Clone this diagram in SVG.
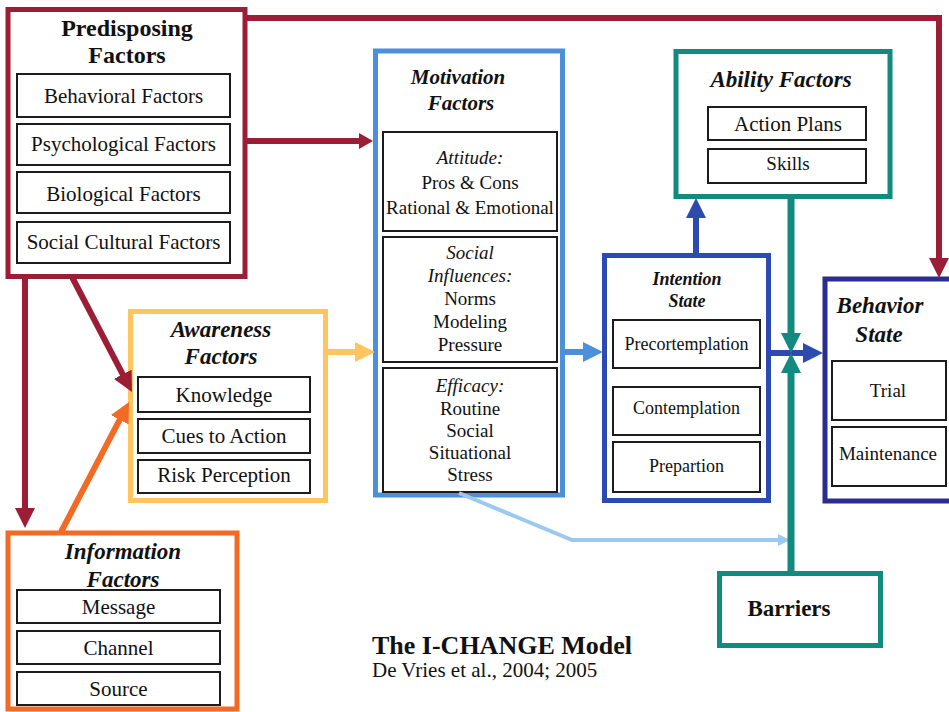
<svg xmlns="http://www.w3.org/2000/svg" width="949" height="712" viewBox="0 0 949 712">
<style>
text{font-family:"Liberation Serif","Times New Roman",serif;fill:#111;text-anchor:middle}
.b{font-weight:bold}
.bi{font-weight:bold;font-style:italic}
.i{font-style:italic}
.outer{fill:#fff;stroke-width:5}
.inner{fill:#fff;stroke:#1c1c1c;stroke-width:2}
.red{stroke:#9B1D36}
.yel{stroke:#FFC660}
.org{stroke:#F26A24}
.mot{stroke:#4B90D8}
.int{stroke:#2D4AAE}
.beh{stroke:#2A2D8E}
.teal{stroke:#138A80}
.conn path{fill:none}
</style>
<defs>
<marker id="aRed" markerUnits="userSpaceOnUse" viewBox="0 0 20 20" refX="6" refY="10" markerWidth="20" markerHeight="20" orient="auto"><path d="M0,0 L20,10 L0,20 z" fill="#9B1D36"/></marker>
<marker id="aRedS" markerUnits="userSpaceOnUse" viewBox="0 0 14 16" refX="4" refY="8" markerWidth="14" markerHeight="16" orient="auto"><path d="M0,0 L14,8 L0,16 z" fill="#9B1D36"/></marker>
<marker id="aOrg" markerUnits="userSpaceOnUse" viewBox="0 0 20 20" refX="6" refY="10" markerWidth="20" markerHeight="20" orient="auto"><path d="M0,0 L20,10 L0,20 z" fill="#F26A24"/></marker>
<marker id="aYel" markerUnits="userSpaceOnUse" viewBox="0 0 20 20" refX="6" refY="10" markerWidth="20" markerHeight="20" orient="auto"><path d="M0,0 L20,10 L0,20 z" fill="#FFC660"/></marker>
<marker id="aMot" markerUnits="userSpaceOnUse" viewBox="0 0 20 20" refX="6" refY="10" markerWidth="20" markerHeight="20" orient="auto"><path d="M0,0 L20,10 L0,20 z" fill="#4B90D8"/></marker>
<marker id="aInt" markerUnits="userSpaceOnUse" viewBox="0 0 20 20" refX="6" refY="10" markerWidth="20" markerHeight="20" orient="auto"><path d="M0,0 L20,10 L0,20 z" fill="#2D4AAE"/></marker>
<marker id="aTeal" markerUnits="userSpaceOnUse" viewBox="0 0 20 20" refX="6" refY="10" markerWidth="20" markerHeight="20" orient="auto"><path d="M0,0 L20,10 L0,20 z" fill="#138A80"/></marker>
<marker id="aLb" markerUnits="userSpaceOnUse" viewBox="0 0 12 12" refX="4" refY="6" markerWidth="12" markerHeight="12" orient="auto"><path d="M0,0 L12,6 L0,12 z" fill="#9CC9EF"/></marker>
</defs>
<rect width="949" height="712" fill="#fff"/>

<g id="predisposing">
<rect class="outer red" x="8" y="9.5" width="237" height="267"/>
<text class="b" x="127" y="36" font-size="24">Predisposing</text>
<text class="b" x="127" y="63" font-size="24">Factors</text>
<rect class="inner" x="17" y="74" width="213" height="43"/>
<text x="123.5" y="103" font-size="21">Behavioral Factors</text>
<rect class="inner" x="17" y="124" width="213" height="41"/>
<text x="123.5" y="151" font-size="21">Psychological Factors</text>
<rect class="inner" x="17" y="172" width="213" height="41"/>
<text x="123.5" y="201" font-size="21">Biological Factors</text>
<rect class="inner" x="17" y="222" width="213" height="41"/>
<text x="123.5" y="249" font-size="21">Social Cultural Factors</text>
</g>

<g id="awareness">
<rect class="outer yel" x="130.5" y="311.5" width="195" height="189"/>
<text class="bi" x="221" y="337" font-size="23">Awareness</text>
<text class="bi" x="221" y="364" font-size="23">Factors</text>
<rect class="inner" x="138" y="377" width="172" height="35"/>
<text x="224" y="402" font-size="21">Knowledge</text>
<rect class="inner" x="138" y="419" width="172" height="34"/>
<text x="224" y="443" font-size="21">Cues to Action</text>
<rect class="inner" x="138" y="460" width="172" height="33"/>
<text x="224" y="482" font-size="21">Risk Perception</text>
</g>

<g id="information">
<rect class="outer org" x="8" y="533" width="229" height="176"/>
<text class="bi" x="123" y="559" font-size="23">Information</text>
<text class="bi" x="123" y="587" font-size="23">Factors</text>
<rect class="inner" x="17" y="590" width="203" height="33"/>
<text x="118.5" y="614" font-size="21">Message</text>
<rect class="inner" x="17" y="631" width="203" height="33"/>
<text x="118.5" y="655" font-size="21">Channel</text>
<rect class="inner" x="17" y="672" width="203" height="33"/>
<text x="118.5" y="696" font-size="21">Source</text>
</g>

<g id="motivation">
<rect class="outer mot" x="375.5" y="51" width="187" height="444"/>
<text class="bi" x="458" y="84" font-size="21">Motivation</text>
<text class="bi" x="461" y="110" font-size="21">Factors</text>
<rect class="inner" x="383" y="132" width="174" height="99"/>
<text class="i" x="470" y="164" font-size="19">Attitude:</text>
<text x="470" y="189" font-size="19">Pros &amp; Cons</text>
<text x="470" y="214" font-size="19">Rational &amp; Emotional</text>
<rect class="inner" x="383" y="237" width="174" height="125"/>
<text class="i" x="470" y="259" font-size="19">Social</text>
<text class="i" x="470" y="282" font-size="19">Influences:</text>
<text x="470" y="305" font-size="19">Norms</text>
<text x="470" y="328" font-size="19">Modeling</text>
<text x="470" y="351" font-size="19">Pressure</text>
<rect class="inner" x="383" y="368" width="174" height="124"/>
<text class="i" x="470" y="392" font-size="19">Efficacy:</text>
<text x="470" y="415" font-size="19">Routine</text>
<text x="470" y="437" font-size="19">Social</text>
<text x="470" y="459" font-size="19">Situational</text>
<text x="470" y="481" font-size="19">Stress</text>
</g>

<g id="ability">
<rect class="outer teal" x="676" y="51.5" width="214" height="145"/>
<text class="bi" x="781" y="87" font-size="23">Ability Factors</text>
<rect class="inner" x="708" y="107" width="158" height="33"/>
<text x="788" y="131" font-size="21">Action Plans</text>
<rect class="inner" x="708" y="149" width="158" height="34"/>
<text x="788" y="170" font-size="19">Skills</text>
</g>

<g id="intention">
<rect class="outer int" x="604.5" y="255.5" width="164" height="245"/>
<text class="bi" x="687" y="285" font-size="18">Intention</text>
<text class="bi" x="687" y="307" font-size="18">State</text>
<rect class="inner" x="613" y="320" width="147" height="48"/>
<text x="686.5" y="350" font-size="18">Precortemplation</text>
<rect class="inner" x="613" y="387" width="147" height="48"/>
<text x="686.5" y="414" font-size="18">Contemplation</text>
<rect class="inner" x="613" y="442" width="147" height="50"/>
<text x="686.5" y="472" font-size="18">Prepartion</text>
</g>

<g id="behavior">
<rect class="outer beh" x="825" y="279" width="132" height="222"/>
<text class="bi" x="880" y="313" font-size="23">Behavior</text>
<text class="bi" x="879" y="342" font-size="23">State</text>
<rect class="inner" x="832" y="361" width="114" height="59"/>
<text x="888" y="397" font-size="19">Trial</text>
<rect class="inner" x="832" y="427" width="114" height="59"/>
<text x="888" y="460" font-size="19">Maintenance</text>
</g>

<g id="barriers">
<rect class="outer teal" x="719.5" y="573.5" width="161" height="72"/>
<text class="b" x="789" y="616" font-size="23">Barriers</text>
</g>

<g id="connectors" class="conn">
<path class="red" stroke-width="6" d="M245,18 H939 V264" marker-end="url(#aRed)"/>
<path class="red" stroke-width="6" d="M245,141 H363" marker-end="url(#aRedS)"/>
<path class="red" stroke-width="6" d="M25,277 V514" marker-end="url(#aRed)"/>
<path class="red" stroke-width="6" d="M72,277 L125.5,379.6" marker-end="url(#aRed)"/>
<path class="org" stroke-width="6" d="M61,532 L122.5,414.4" marker-end="url(#aOrg)"/>
<path class="yel" stroke-width="6" d="M328,352 H361" marker-end="url(#aYel)"/>
<path class="mot" stroke-width="6" d="M563,352 H589" marker-end="url(#aMot)"/>
<path class="int" stroke-width="6" d="M770,353 H809" marker-end="url(#aInt)"/>
<path class="int" stroke-width="6" d="M696,254 V212" marker-end="url(#aInt)"/>
<path stroke="#9CC9EF" stroke-width="4" d="M459,493 L572,540 H782" marker-end="url(#aLb)"/>
<path class="teal" stroke-width="7" d="M791,197 V339" marker-end="url(#aTeal)"/>
<path class="teal" stroke-width="7" d="M791,572 V367" marker-end="url(#aTeal)"/>
</g>

<g id="caption">
<text class="b" x="372" y="654" font-size="26" style="text-anchor:start">The I-CHANGE Model</text>
<text x="372" y="677" font-size="21" style="text-anchor:start">De Vries et al., 2004; 2005</text>
</g>
</svg>
